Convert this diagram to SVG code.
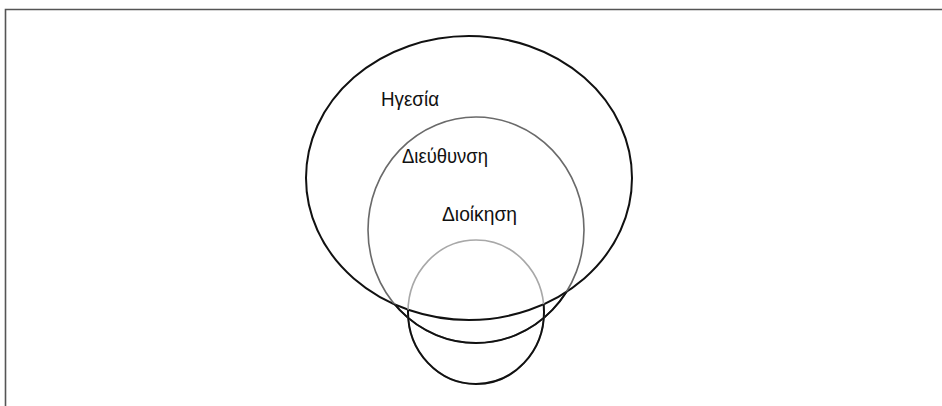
<svg xmlns="http://www.w3.org/2000/svg" width="942" height="406" viewBox="0 0 942 406">
<style>
.lbl{font-family:"Liberation Sans",Arial,sans-serif;font-size:21px;fill:#111}
.blk{fill:none;stroke:#111;stroke-width:2}
</style>
<defs>
<clipPath id="outside"><path clip-rule="evenodd" d="M0 0H942V406H0Z M306 178A163 142 0 1 0 632 178A163 142 0 1 0 306 178Z"/></clipPath>
</defs>
<rect width="942" height="406" fill="#fff"/>
<path d="M5.5 406V9.5H942" fill="none" stroke="#555" stroke-width="1.6"/>
<g id="igesia">
<ellipse cx="469" cy="178" rx="163" ry="142" class="blk"/>
<text class="lbl" x="381" y="106" textLength="58" lengthAdjust="spacingAndGlyphs">Ηγεσία</text>
</g>
<g id="dieuthynsi">
<ellipse cx="476" cy="230" rx="108" ry="113" fill="none" stroke="#6a6a6a" stroke-width="1.6"/>
<ellipse cx="476" cy="230" rx="108" ry="113" class="blk" clip-path="url(#outside)"/>
<text class="lbl" x="402" y="163" textLength="86" lengthAdjust="spacingAndGlyphs">Διεύθυνση</text>
</g>
<g id="dioikisi">
<ellipse cx="476" cy="312" rx="68" ry="72" fill="none" stroke="#a8a8a8" stroke-width="1.6"/>
<ellipse cx="476" cy="312" rx="68" ry="72" class="blk" clip-path="url(#outside)"/>
<text class="lbl" x="442" y="221" textLength="75" lengthAdjust="spacingAndGlyphs">Διοίκηση</text>
</g>
</svg>
